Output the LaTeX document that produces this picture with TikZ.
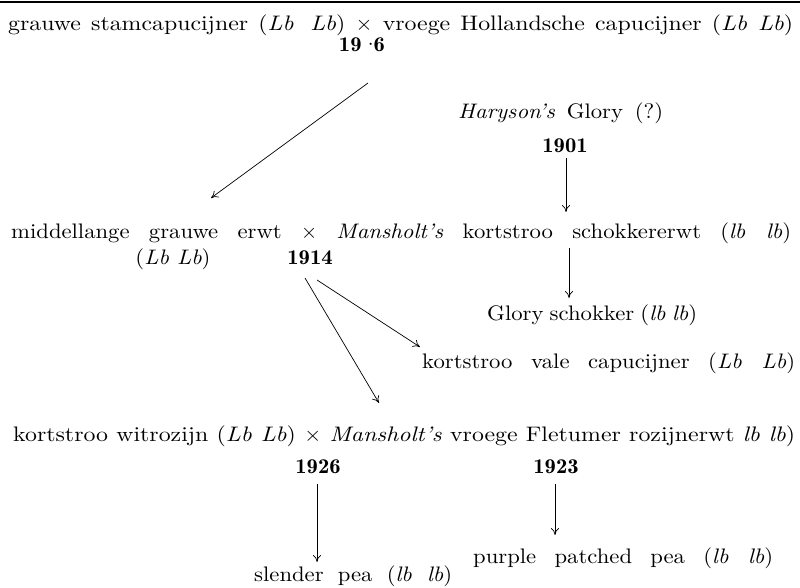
\documentclass[tikz,border=0pt]{standalone}
\usepackage{graphicx}
\usepackage{fontspec}
\setmainfont{lmroman10-regular.otf}[FakeStretch=1.08,
  BoldFont=lmromandemi10-regular.otf,
  ItalicFont=lmroman10-italic.otf]
\usetikzlibrary{arrows.meta}
\newcommand{\wideline}[2]{\scalebox{1.05}[1]{\makebox[\dimexpr #1/105*100\relax][s]{#2}}}
\begin{document}
\begin{tikzpicture}[x=1pt,y=-1pt,
  txt/.style={font=\fontsize{21}{25}\selectfont, inner sep=0pt, anchor=base west},
  ctxt/.style={font=\fontsize{21}{25}\selectfont\bfseries, inner sep=0pt, anchor=base},
  arr/.style={line width=0.7pt, -{To[length=7pt,width=8pt]}}]
\useasboundingbox (0,0) rectangle (800,587);
\coordinate (rl) at (0,2);
\coordinate (rr) at (800,2);
\draw[line width=1.4pt] (rl) -- (rr);
% row 1
\node[txt] (l1) at (8,30) {\wideline{785pt}{grauwe stamcapucijner (\textit{Lb}\hspace{0.3em} \textit{Lb}) $\times$ vroege Hollandsche capucijner (\textit{Lb Lb})}};
\node[ctxt] (y16) at (362,51) {19\hspace{0.3em}\raisebox{0.05em}{$\cdot$}6};
\node[txt] (har) at (458,118) {\makebox[205pt][s]{\textit{Haryson's} Glory (?)}};
\node[ctxt] (y01) at (565,152) {1901};
% row 2
\node[txt] (l2) at (11,238) {\makebox[780pt][s]{middellange grauwe erwt $\times$ \textit{Mansholt's} kortstroo schokkererwt (\textit{lb lb})}};
\node[txt, anchor=base] (lb2) at (173,264) {(\textit{Lb Lb})};
\node[ctxt] (y14) at (310,264) {1914};
\node[txt] (gs) at (487,320) {\makebox[210pt][s]{Glory schokker (\textit{lb lb})}};
\node[txt] (kv) at (422,368) {\makebox[373pt][s]{kortstroo vale capucijner (\textit{Lb Lb})}};
% row 3
\node[txt] (l3) at (13,441) {\wideline{782pt}{kortstroo witrozijn (\textit{Lb Lb}) $\times$ \textit{Mansholt's} vroege Fletumer rozijnerwt \textit{lb lb})}};
\node[ctxt] (y26) at (318,473) {1926};
\node[ctxt] (y23) at (556,473) {1923};
\node[txt] (pp) at (473,563) {\makebox[300pt][s]{purple patched pea (\textit{lb lb})}};
\node[txt] (sp) at (254,581) {\makebox[198pt][s]{slender pea (\textit{lb lb})}};
% connector ends
\coordinate (a1s) at (368,83);  \coordinate (a1e) at (211,198);
\coordinate (a2s) at (566,158); \coordinate (a2e) at (566,212);
\coordinate (a3s) at (569,248); \coordinate (a3e) at (569,298);
\coordinate (a4s) at (305,278); \coordinate (a4e) at (379,403);
\coordinate (a5s) at (317,280); \coordinate (a5e) at (420,347);
\coordinate (a6s) at (317,484); \coordinate (a6e) at (317,562);
\coordinate (a7s) at (555,484); \coordinate (a7e) at (555,535);
\draw[arr] (a1s) -- (a1e);
\draw[arr] (a2s) -- (a2e);
\draw[arr] (a3s) -- (a3e);
\draw[arr] (a4s) -- (a4e);
\draw[arr] (a5s) -- (a5e);
\draw[arr] (a6s) -- (a6e);
\draw[arr] (a7s) -- (a7e);
\end{tikzpicture}
\end{document}
